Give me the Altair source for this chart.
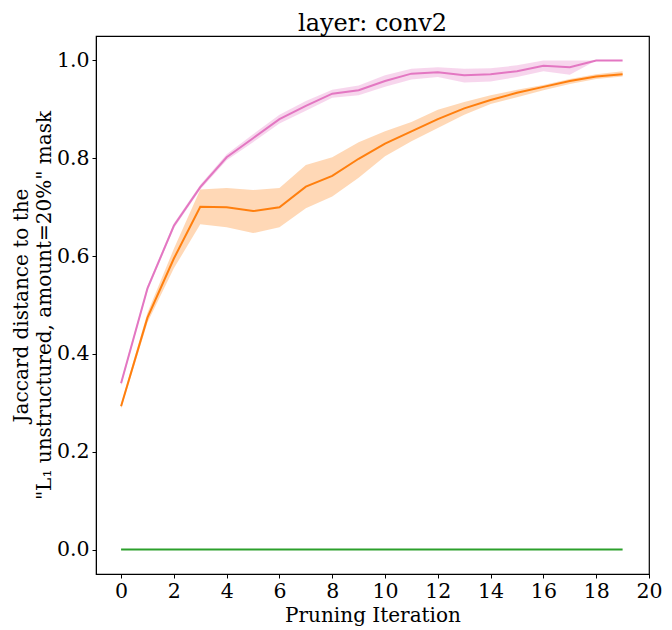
import altair as alt
import pandas as pd

iterations = list(range(20))

pink_mean = [0.340, 0.534, 0.662, 0.741, 0.802, 0.841, 0.880, 0.907, 0.932, 0.939,
             0.958, 0.973, 0.976, 0.970, 0.972, 0.978, 0.989, 0.986, 1.000, 1.000]
pink_lo = [0.335, 0.529, 0.657, 0.736, 0.796, 0.833, 0.871, 0.897, 0.924, 0.929,
           0.946, 0.961, 0.966, 0.955, 0.957, 0.966, 0.978, 0.971, 1.000, 1.000]
pink_hi = [0.345, 0.539, 0.667, 0.746, 0.808, 0.849, 0.889, 0.917, 0.940, 0.949,
           0.970, 0.983, 0.986, 0.983, 0.984, 0.990, 1.000, 1.000, 1.000, 1.000]

orange_mean = [0.293, 0.474, 0.595, 0.701, 0.700, 0.692, 0.700, 0.742, 0.764, 0.799,
               0.830, 0.855, 0.880, 0.902, 0.919, 0.934, 0.946, 0.958, 0.967, 0.972]
orange_lo = [0.288, 0.464, 0.575, 0.665, 0.659, 0.647, 0.659, 0.698, 0.722, 0.760,
             0.804, 0.835, 0.862, 0.889, 0.911, 0.925, 0.939, 0.952, 0.962, 0.967]
orange_hi = [0.298, 0.484, 0.615, 0.736, 0.739, 0.735, 0.739, 0.786, 0.802, 0.833,
             0.855, 0.874, 0.899, 0.915, 0.929, 0.940, 0.950, 0.962, 0.972, 0.978]

green_mean = [0.0] * 20

series_names = ["orange", "pink", "green"]
series_colors = ["#ff7f0e", "#e377c2", "#2ca02c"]

rows = []
for name, m, lo, hi in [
    ("orange", orange_mean, orange_lo, orange_hi),
    ("pink", pink_mean, pink_lo, pink_hi),
    ("green", green_mean, green_mean, green_mean),
]:
    for i, x in enumerate(iterations):
        rows.append({"iter": x, "series": name, "mean": m[i], "lo": lo[i], "hi": hi[i]})
df = pd.DataFrame(rows)

color_scale = alt.Scale(domain=series_names, range=series_colors)
y_scale = alt.Scale(domain=[-0.05, 1.05], nice=False, zero=False)

x_enc = alt.X("iter:Q",
              scale=alt.Scale(domain=[-0.95, 20], nice=False, zero=False),
              axis=alt.Axis(values=list(range(0, 21, 2)), title="Pruning Iteration"))
y_enc = alt.Y("mean:Q", scale=y_scale,
              axis=alt.Axis(values=[0.0, 0.2, 0.4, 0.6, 0.8, 1.0], format=".1f",
                            title=["Jaccard distance to the",
                                   "\"L\u2081 unstructured, amount=20%\" mask"]))

base = alt.Chart(df)

band = base.mark_area(opacity=0.3).encode(
    x=x_enc,
    y=alt.Y("lo:Q", scale=y_scale),
    y2="hi:Q",
    color=alt.Color("series:N", scale=color_scale, legend=None),
    detail="series:N",
)

line = base.mark_line(strokeWidth=2).encode(
    x=x_enc,
    y=y_enc,
    color=alt.Color("series:N", scale=color_scale, legend=None),
    detail="series:N",
)

chart = alt.layer(band, line).properties(
    width=553,
    height=538,
    autosize="none",
    padding={"left": 88, "top": 28, "right": 15, "bottom": 54},
    title=alt.TitleParams("layer: conv2", fontSize=24, font="DejaVu Serif",
                          fontWeight="normal", color="black", offset=0, anchor="middle"),
).configure_view(
    stroke="black", strokeWidth=1.2
).configure_axis(
    grid=False,
    labelFont="DejaVu Serif", titleFont="DejaVu Serif",
    labelFontSize=20.5, titleFontSize=20, titleFontWeight="normal",
    labelColor="black", titleColor="black",
    domainColor="black", tickColor="black", tickSize=4, labelPadding=3,
    labelFlush=False, labelOverlap=False,
).configure_axisY(
    titlePadding=2, titleLineHeight=23
).configure_axisX(
    titlePadding=4
)

chart.save("out.html", embed_options={"renderer": "svg", "actions": False})
